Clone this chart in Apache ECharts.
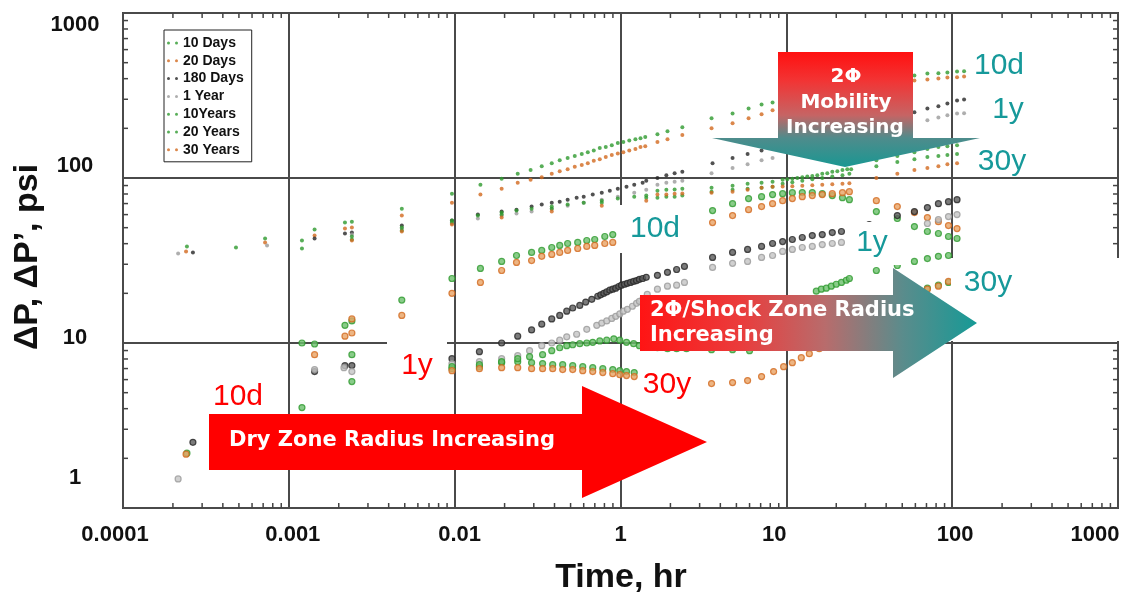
<!DOCTYPE html>
<html>
<head>
<meta charset="utf-8">
<script src="https://cdn.jsdelivr.net/npm/echarts@6/dist/echarts.min.js"></script>
<style>
  html, body { margin: 0; padding: 0; background: #fff; }
  #chart { width: 1129px; height: 595px; }
</style>
</head>
<body>
<div id="chart"></div>
<script>
// Tick labels as printed on the axes
const xTickLabels = ['0.0001', '0.001', '0.01', '1', '10', '100', '1000'];
const yTickLabels = ['1', '10', '100', '1000'];

const seriesNames = ['10 Days', '20 Days', '180 Days', '1 Year', '10Years', '20 Years', '30 Years'];

// Pressure change ΔP [time, psi]
const p10Days = [[0.000243,38.5],[0.000719,43.0],[0.00143,48.7],[0.00218,53.7],[0.0024,54.4],[0.0048,65.2],[0.00963,80.4],[0.0143,91.1],[0.0192,99.0],[0.024,106],[0.0287,112],[0.0335,118],[0.0385,123],[0.043,128],[0.048,132],[0.053,136],[0.0584,140],[0.0635,143],[0.069,147],[0.075,152],[0.0815,154],[0.0886,158],[0.0963,163],[0.104,165],[0.113,169],[0.123,172],[0.132,174],[0.141,177],[0.167,184],[0.192,192],[0.236,203],[0.354,230],[0.474,246],[0.592,264],[0.709,279],[0.826,287],[1.2,308],[1.82,339],[3.16,374],[5.92,418],[7.09,430],[8.26,432],[9.36,436],[10.7,442],[11.8,443]];
const p20Days = [[0.00024,35.9],[0.000719,40.7],[0.00143,44.8],[0.00218,49.4],[0.0024,50.1],[0.0048,59.2],[0.00963,70.9],[0.0143,79.3],[0.0192,86.2],[0.024,93.6],[0.0287,97.6],[0.0335,101],[0.0385,106],[0.043,110],[0.048,113],[0.053,117],[0.0584,120],[0.0635,123],[0.069,127],[0.075,130],[0.0815,134],[0.0886,138],[0.0963,141],[0.104,143],[0.113,147],[0.123,150],[0.132,154],[0.141,156],[0.167,165],[0.192,172],[0.236,182],[0.354,200],[0.474,215],[0.592,230],[0.709,243],[0.826,257],[1.2,275],[1.82,308],[3.16,344],[5.92,390],[7.09,395],[8.26,401],[9.36,406],[10.7,408],[11.8,412]];
const p180Days = [[0.000264,35.4],[0.00143,43.0],[0.00218,46.1],[0.0024,46.7],[0.0048,51.5],[0.00963,55.2],[0.0138,60.0],[0.0192,62.6],[0.0236,64.3],[0.0291,67.1],[0.0335,69.0],[0.0385,70.9],[0.043,71.9],[0.048,73.9],[0.0544,76.0],[0.06,77.1],[0.068,79.3],[0.0771,81.5],[0.0862,83.8],[0.0963,86.2],[0.1087,88.6],[0.121,91.1],[0.136,93.6],[0.143,96.3],[0.167,100],[0.189,104],[0.212,107],[0.236,109],[0.359,123],[0.474,132],[0.584,140],[0.709,147],[0.826,152],[1.2,165],[2.09,187],[3.6,218],[5.92,250],[7.09,264],[8.26,272],[9.36,283],[10.7,295],[11.8,299]];
const p1Year = [[0.000215,34.9],[0.000739,39.0],[0.0024,45.4],[0.0048,49.4],[0.00963,53.0],[0.0138,56.8],[0.0192,59.2],[0.0236,60.9],[0.0291,62.6],[0.0385,65.2],[0.048,68.0],[0.06,70.9],[0.0771,73.9],[0.0963,77.1],[0.121,81.5],[0.143,85.0],[0.167,91.1],[0.189,93.6],[0.212,95.0],[0.236,96.3],[0.354,107],[0.474,115],[0.584,121],[0.709,128],[0.826,132],[1.2,143],[2.09,158],[3.64,182],[7.09,224],[8.26,233],[9.36,240],[10.7,246],[11.8,247]];
const p10Years = [[0.00048,37.9],[0.0012,41.8],[0.0024,44.2],[0.0048,50.1],[0.00963,55.2],[0.0138,59.2],[0.0192,61.7],[0.0236,63.5],[0.0291,65.2],[0.0385,67.1],[0.048,69.0],[0.06,70.9],[0.0771,72.9],[0.0963,75.0],[0.121,77.1],[0.143,78.2],[0.167,83.8],[0.189,85.0],[0.212,85.2],[0.236,86.2],[0.354,87.4],[0.474,89.8],[0.584,92.4],[0.709,93.6],[0.826,95.0],[0.95,97.6],[1.014,98.3],[1.087,99.0],[1.165,100],[1.248,101],[1.338,102],[1.434,103],[1.537,104],[1.647,106],[1.766,107],[1.893,109],[2.03,110],[2.18,112],[2.33,112.8],[2.46,113],[3.49,128],[4.67,136],[5.92,143],[7.09,150],[8.26,154],[9.36,156],[10.7,158]];
const p20Years = [[0.0012,37.4],[0.0024,42.4],[0.0048,48.0],[0.00963,53.7],[0.0192,60.0],[0.0385,65.2],[0.0771,70.9],[0.143,76.0],[0.167,76.0],[0.189,77.1],[0.212,77.1],[0.236,78.2],[0.354,82.6],[0.474,85.0],[0.584,86.2],[0.709,87.4],[0.826,88.6],[0.95,92.4],[1.087,94.3],[1.248,96.3],[1.434,98.3],[1.647,100],[1.893,102],[2.18,104],[2.4,106],[3.49,118],[4.67,125],[5.92,130],[7.09,134],[8.26,136],[9.36,138],[10.7,140]];
const p30Years = [[0.0024,41.8],[0.0048,47.4],[0.00963,52.2],[0.0192,57.6],[0.0385,62.6],[0.0771,68.0],[0.143,72.9],[0.167,79.3],[0.189,79.3],[0.212,80.4],[0.236,80.5],[0.354,81.5],[0.474,82.6],[0.584,85.0],[0.709,87.4],[0.826,88.6],[0.95,88.8],[1.087,89.2],[1.248,89.8],[1.434,90.5],[1.647,91.1],[1.893,91.7],[2.18,92.4],[2.4,93.0],[3.49,100],[4.67,106],[5.92,112],[7.09,115],[8.26,118],[9.36,121],[10.7,123]];

// Pressure derivative ΔP' [time, psi]
const d10Days = [[0.0012,10.0],[0.00143,9.86],[0.00218,12.8],[0.0024,13.6],[0.0048,18.2],[0.00963,24.6],[0.0143,28.3],[0.0192,31.2],[0.0236,33.9],[0.0291,35.4],[0.0335,36.4],[0.0385,37.9],[0.043,39.0],[0.048,40.1],[0.0552,40.7],[0.0626,41.8],[0.0699,42.4],[0.0804,44.2],[0.0898,45.4],[0.13,49.4],[0.2,55.2],[0.359,63.5],[0.474,69.9],[0.592,75.0],[0.709,77.1],[0.826,79.3],[0.95,80.4],[1.087,81.5],[1.248,81.6],[1.434,81.6],[1.647,80.4],[1.893,78.2],[2.18,76.0],[2.4,73.9],[3.49,62.6],[4.67,56.8],[5.92,50.8],[7.09,47.4],[8.26,46.1],[9.5,44.2],[10.7,43.0]];
const d20Days = [[0.00143,8.50],[0.00218,11.0],[0.0024,11.5],[0.0024,14.0],[0.0048,14.7],[0.00963,20.0],[0.0143,23.3],[0.0192,27.5],[0.0236,30.8],[0.0291,31.6],[0.0335,33.5],[0.0385,34.4],[0.043,35.4],[0.048,36.4],[0.0552,37.4],[0.0626,38.5],[0.0699,39.0],[0.0804,40.1],[0.0898,40.7],[0.13,44.2],[0.2,48.7],[0.359,53.7],[0.474,59.2],[0.592,64.3],[0.709,67.1],[0.826,69.9],[0.95,72.9],[1.087,75.0],[1.248,77.1],[1.434,78.2],[1.647,79.3],[1.893,80.4],[2.18,81.5],[2.4,82.6],[3.49,72.9],[4.67,67.1],[5.92,61.7],[7.09,57.6],[8.26,54.4],[9.5,51.5],[10.7,49.4]];
const d180Days = [[0.000264,2.50],[0.00143,6.71],[0.00218,7.29],[0.0024,7.3],[0.0048,7.60],[0.00963,8.04],[0.0141,8.86],[0.0192,10.0],[0.024,11.0],[0.0291,12.0],[0.0335,13.0],[0.0385,14.0],[0.043,14.7],[0.0474,15.6],[0.0515,16.3],[0.0568,16.9],[0.0617,17.7],[0.0671,18.4],[0.0729,19.2],[0.076,19.6],[0.0793,20.0],[0.0826,20.4],[0.0862,20.9],[0.0898,21.2],[0.0936,21.5],[0.0976,22.0],[0.1014,22.4],[0.1058,22.7],[0.11,23.0],[0.115,23.3],[0.12,23.6],[0.125,23.9],[0.13,24.3],[0.136,24.6],[0.143,25.0],[0.167,25.7],[0.192,26.8],[0.218,27.9],[0.243,29.1],[0.359,33.0],[0.474,35.4],[0.584,36.9],[0.709,38.5],[0.826,40.1],[0.95,41.2],[1.087,42.4],[1.248,43.6],[1.434,44.8],[1.647,45.4],[1.893,46.7],[2.15,47.4],[3.16,52.2],[4.67,59.2],[5.92,62.6],[7.09,66.2],[8.26,69.9],[9.5,71.9],[10.7,73.9]];
const d1Year = [[0.000215,1.50],[0.00143,6.90],[0.00215,7.09],[0.0024,6.71],[0.0048,6.99],[0.00963,7.50],[0.0141,7.71],[0.0192,8.04],[0.024,8.38],[0.0283,8.98],[0.0335,9.63],[0.0385,10.0],[0.043,10.4],[0.0474,10.9],[0.0544,11.3],[0.0626,12.1],[0.0719,12.8],[0.0771,13.2],[0.0826,13.6],[0.0886,14.1],[0.0936,14.5],[0.099,15.0],[0.104,15.6],[0.11,16.0],[0.118,16.7],[0.125,17.4],[0.13,17.9],[0.137,18.6],[0.145,19.7],[0.167,21.2],[0.192,22.1],[0.218,22.4],[0.243,23.3],[0.359,28.7],[0.474,30.4],[0.584,31.2],[0.709,33.0],[0.826,33.9],[0.95,35.9],[1.087,36.9],[1.248,37.9],[1.434,38.5],[1.647,39.5],[1.893,40.1],[2.15,40.7],[3.64,45.4],[7.09,53.0],[8.26,56.0],[9.5,58.4],[10.7,60.0]];
const d10Years = [[0.000243,2.15],[0.0012,4.06],[0.0024,5.84],[0.0048,6.35],[0.00963,6.99],[0.0141,7.19],[0.0192,7.60],[0.024,7.71],[0.0291,7.60],[0.0339,7.50],[0.039,7.39],[0.0448,7.39],[0.0515,7.29],[0.0592,7.19],[0.068,7.09],[0.0782,6.99],[0.0898,6.90],[0.099,6.80],[0.1087,6.71],[0.121,6.62],[7.09,21.5],[8.26,22.4],[9.5,23.3]];
const d20Years = [[0.0024,8.50],[0.0048,7.82],[0.00963,7.19],[0.0141,7.39],[0.0192,7.71],[0.024,8.04],[0.0283,8.26],[0.0339,8.50],[0.0385,8.98],[0.043,9.36],[0.0474,9.63],[0.0515,9.76],[0.0568,9.90],[0.0626,10.0],[0.068,10.1],[0.075,10.3],[0.0826,10.4],[0.0911,10.6],[0.099,10.4],[0.1087,10.1],[0.12,9.9],[0.13,9.63],[0.143,9.50],[0.167,9.36],[0.192,9.24],[0.218,9.24],[0.25,9.24],[0.354,9.11],[0.474,9.11],[0.6,8.98],[0.91,12.1],[1.2,16.0],[1.516,20.6],[1.625,21.2],[1.742,21.5],[1.867,22.1],[2.0,22.7],[2.15,23.3],[2.3,24.0],[2.4,24.6],[3.49,27.5],[4.67,29.5],[5.92,31.2],[7.09,32.5],[8.26,33.5],[9.5,33.9]];
const d30Years = [[0.00024,2.12],[0.00963,6.80],[0.0141,6.99],[0.0192,7.09],[0.024,7.09],[0.0291,6.99],[0.0339,6.99],[0.039,6.99],[0.0448,6.90],[0.0515,6.90],[0.0592,6.80],[0.068,6.71],[0.0782,6.62],[0.0898,6.52],[0.099,6.43],[0.1087,6.35],[0.121,6.26],[0.2,5.92],[0.354,5.68],[0.474,5.76],[0.584,5.92],[0.709,6.26],[0.838,6.71],[0.963,7.19],[1.087,7.60],[1.231,8.15],[1.376,8.62],[1.58,9.24],[2.09,10.6],[3.16,13.6],[4.8,17.2],[7.09,21.2],[8.26,22.1],[9.5,23.6]];

const pressureSets = [p10Days, p20Days, p180Days, p1Year, p10Years, p20Years, p30Years];
const derivSets = [d10Days, d20Days, d180Days, d1Year, d10Years, d20Years, d30Years];

// marker colours per legend entry
const dotColor  = ['#2e9a2e', '#d2691e', '#262626', '#9a9a9a', '#2e9a2e', '#2e9a2e', '#d2691e'];
const ringFill  = ['#6cbf6c', '#e9a364', '#5a5a5a', '#c4c4c4', '#6cbf6c', '#6cbf6c', '#e9a364'];

// minor log ticks (2..9 within each decade)
const xMinor = [];
for (let e = -4; e < 2; e++) for (let k = 2; k <= 9; k++) xMinor.push([k * Math.pow(10, e), 1]);
const yMinor = [];
for (let e = 0; e < 3; e++) for (let k = 2; k <= 9; k++) yMinor.push([1e-4, k * Math.pow(10, e)]);

const AX = '#444';
const tickLine = (x1, y1, x2, y2) => ({ type: 'line', shape: { x1, y1, x2, y2 }, style: { stroke: AX, lineWidth: 1.5 } });

const series = [];
seriesNames.forEach((name, i) => {
  series.push({
    type: 'scatter', name, data: pressureSets[i], symbol: 'circle', symbolSize: 4,
    itemStyle: { color: dotColor[i] }, z: 3, silent: true
  });
});
seriesNames.forEach((name, i) => {
  series.push({
    type: 'scatter', name, data: derivSets[i], symbol: 'circle', symbolSize: 6,
    itemStyle: { color: ringFill[i], borderColor: dotColor[i], borderWidth: 1.2 }, z: 3, silent: true
  });
});
series.push({
  type: 'custom', data: xMinor, silent: true, z: 4, clip: false,
  renderItem: (params, api) => {
    const x = api.coord([api.value(0), 1])[0];
    const cs = params.coordSys;
    const yb = cs.y + cs.height;
    return { type: 'group', children: [tickLine(x, yb, x, yb - 5), tickLine(x, cs.y, x, cs.y + 5)] };
  }
});
series.push({
  type: 'custom', data: yMinor, silent: true, z: 4, clip: false,
  renderItem: (params, api) => {
    const y = api.coord([1e-4, api.value(1)])[1];
    const cs = params.coordSys;
    const xr = cs.x + cs.width;
    return { type: 'group', children: [tickLine(cs.x, y, cs.x + 5, y), tickLine(xr, y, xr - 5, y)] };
  }
});

const labelFont = { fontFamily: 'Liberation Sans', fontWeight: 'bold', fontSize: 22, color: '#111' };
const xShift = [[0,16,0,0],[0,0,0,8],[0,0,0,10],[0,0,0,0],[0,24,0,0],[0,0,0,6],[0,46,0,0]];
const yShift = [[0,0,60,0],[0,0,10,0],[0,0,24,0],[23,0,0,0]];
const xRich = {}; xShift.forEach((p, i) => { xRich['x' + i] = { padding: p }; });
const yRich = {}; yShift.forEach((p, i) => { yRich['y' + i] = { padding: p }; });

const whiteBox = (x, y, w, h) => ({ type: 'rect', shape: { x, y, width: w, height: h }, style: { fill: '#fff' }, z: 100, silent: true });
const label = (text, x, y, fill, font) => ({
  type: 'text', x, y, z: 102, silent: true,
  style: { text, fill, font, align: 'center', verticalAlign: 'middle' }
});
const bannerFont = 'bold 21px "DejaVu Sans"';
const tagFont = '30px "Liberation Sans"';
const RED = '#ff0000', TEAL = '#16999a';

const graphics = [
  // white patches behind the stage tags
  whiteBox(387, 335, 60, 58),
  whiteBox(618, 205, 72, 48),
  whiteBox(848, 222, 57, 43),
  whiteBox(951, 258, 176, 83),
  whiteBox(638, 371, 70, 32),
  // dry zone arrow
  { type: 'polygon', z: 101, silent: true,
    shape: { points: [[209,414],[582,414],[582,386],[707,442],[582,498],[582,470],[209,470]] },
    style: { fill: '#ff0000' } },
  // two-phase / shock zone arrow
  { type: 'polygon', z: 101, silent: true,
    shape: { points: [[640,295],[893,295],[893,268],[977,323],[893,378],[893,351],[640,351]] },
    style: { fill: new echarts.graphic.LinearGradient(0, 0, 1, 0, [
      { offset: 0, color: '#ff1414' }, { offset: 0.3, color: '#ea3c3c' },
      { offset: 0.55, color: '#b86c6c' }, { offset: 0.78, color: '#5a8c8c' }, { offset: 1, color: '#169a96' }
    ]) } },
  // mobility arrow (downwards)
  { type: 'polygon', z: 101, silent: true,
    shape: { points: [[778,52],[913,52],[913,138],[980,138],[845,167],[712,138],[778,138]] },
    style: { fill: new echarts.graphic.LinearGradient(0, 0, 0, 1, [
      { offset: 0, color: '#ff1010' }, { offset: 0.25, color: '#f23434' },
      { offset: 0.55, color: '#c66464' }, { offset: 0.75, color: '#4e8c8c' }, { offset: 1, color: '#1a9792' }
    ]) } },
  label('Dry Zone Radius Increasing', 392, 441, '#fff', bannerFont),
  { type: 'text', x: 650, y: 311, z: 102, silent: true,
    style: { text: '2Φ/Shock Zone Radius', fill: '#fff', font: bannerFont, align: 'left', verticalAlign: 'middle' } },
  { type: 'text', x: 650, y: 336, z: 102, silent: true,
    style: { text: 'Increasing', fill: '#fff', font: bannerFont, align: 'left', verticalAlign: 'middle' } },
  label('2Φ', 846, 77, '#fff', 'bold 20px "DejaVu Sans"'),
  label('Mobility', 846, 102.5, '#fff', 'bold 20px "DejaVu Sans"'),
  label('Increasing', 845, 127.5, '#fff', 'bold 20px "DejaVu Sans"'),
  // stage tags
  label('10d', 238, 397, RED, tagFont),
  label('1y', 417, 366, RED, tagFont),
  label('30y', 667, 385, RED, tagFont),
  label('10d', 655, 229, TEAL, tagFont),
  label('1y', 872, 243, TEAL, tagFont),
  label('30y', 988, 283, TEAL, tagFont),
  label('10d', 999, 66, TEAL, tagFont),
  label('1y', 1008, 110, TEAL, tagFont),
  label('30y', 1002, 162, TEAL, tagFont),
  // axis titles
  label('Time, hr', 621, 578, '#111', 'bold 34px "Liberation Sans"'),
  { type: 'text', x: 28, y: 257, rotation: Math.PI / 2, z: 102, silent: true,
    style: { text: 'ΔP, ΔP’, psi', fill: '#111', font: 'bold 34px "Liberation Sans"', align: 'center', verticalAlign: 'middle' } }
];

const chart = echarts.init(document.getElementById('chart'), null, { renderer: 'canvas' });
chart.setOption({
  animation: false,
  backgroundColor: '#fff',
  textStyle: { fontFamily: 'Liberation Sans' },
  grid: { left: 123, right: 11, top: 13, bottom: 87, show: true, borderColor: AX, borderWidth: 2, outerBoundsMode: 'none' },
  legend: {
    data: seriesNames, orient: 'vertical', left: 164, top: 30, selectedMode: false,
    backgroundColor: '#fff', borderColor: '#222', borderWidth: 1, padding: [6, 8, 5, 3],
    itemWidth: 11, itemHeight: 3, itemGap: 3.8,
    icon: 'path://M0,1.5A1.5,1.5,0,1,1,3,1.5A1.5,1.5,0,1,1,0,1.5Z M8,1.5A1.5,1.5,0,1,1,11,1.5A1.5,1.5,0,1,1,8,1.5Z',
    textStyle: { fontFamily: 'Liberation Sans', fontWeight: 'bold', fontSize: 14, lineHeight: 14, color: '#111' }
  },
  xAxis: {
    type: 'log', logBase: 10, min: 1e-4, max: 100,
    axisLine: { show: false }, axisTick: { show: false },
    splitLine: { show: true, lineStyle: { color: '#4a4a4a', width: 2 } },
    axisLabel: Object.assign({}, labelFont, {
      margin: 16, rich: xRich,
      formatter: v => { const i = Math.round(Math.log10(v)) + 4; return '{x' + i + '|' + xTickLabels[i] + '}'; }
    })
  },
  yAxis: {
    type: 'log', logBase: 10, min: 1, max: 1000,
    axisLine: { show: false }, axisTick: { show: false },
    splitLine: { show: true, lineStyle: { color: '#4a4a4a', width: 2 } },
    axisLabel: Object.assign({}, labelFont, {
      margin: 48, align: 'center', rich: yRich,
      formatter: v => { const i = Math.round(Math.log10(v)); return '{y' + i + '|' + yTickLabels[i] + '}'; }
    })
  },
  series,
  graphic: { elements: graphics }
});
</script>
</body>
</html>
